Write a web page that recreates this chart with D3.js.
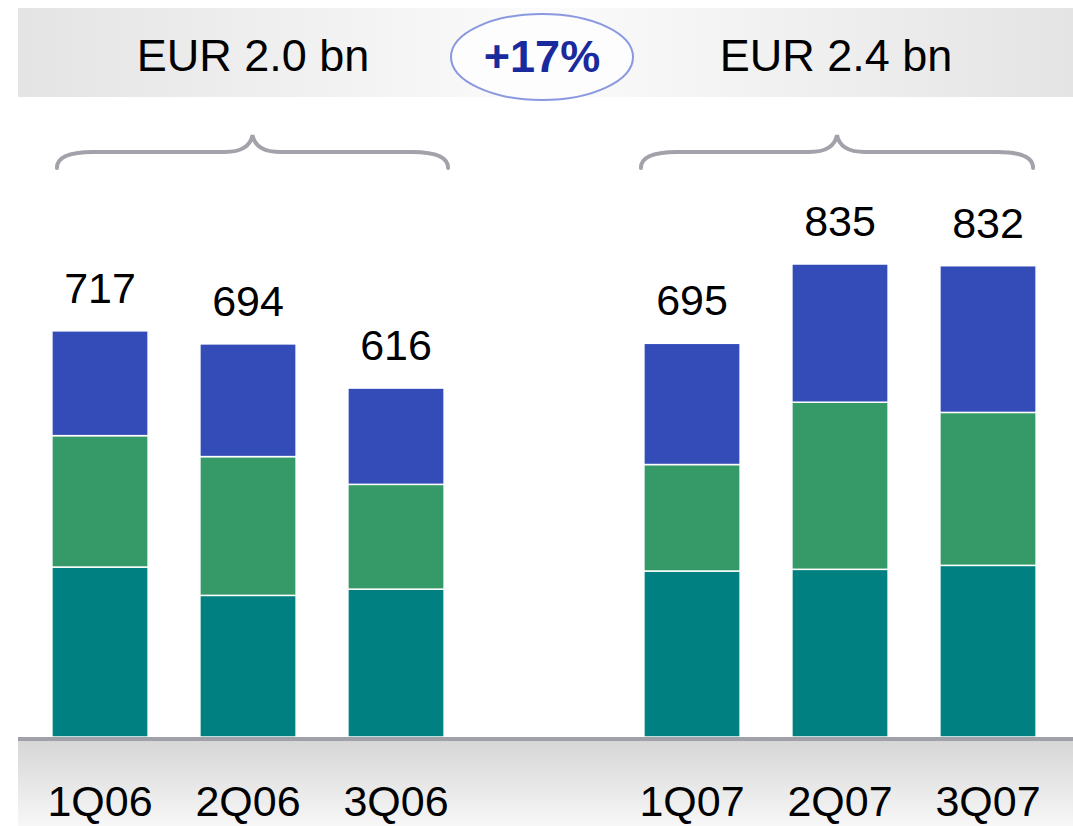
<!DOCTYPE html>
<html>
<head>
<meta charset="utf-8">
<script src="https://d3js.org/d3.v7.min.js"></script>
<style>
  body { margin: 0; background: #fff; }
  text { font-family: "Liberation Sans", Arial, sans-serif; }
</style>
</head>
<body>
<div id="my_dataviz"></div>
<script>

// data
var quarters = ["1Q06", "2Q06", "3Q06", "", "1Q07", "2Q07", "3Q07"];
var bottomPart = [300, 250, 261, null, 293, 296, 303];
var middlePart = [232, 245, 185, null, 188, 295, 270];
var topPart    = [185, 199, 170, null, 214, 244, 259];
var totals     = [717, 694, 616, null, 695, 835, 832];
var groupLabels = ["EUR 2.0 bn", "EUR 2.4 bn"];
var growthLabel = "+17%";

var colors = ["#008080", "#359a67", "#344cb8"];

var width = 1073, height = 826;
var baseY = 737;

var svg = d3.select("#my_dataviz")
  .append("svg")
  .attr("width", width)
  .attr("height", height);

var defs = svg.append("defs");

// header gradient (grey - light - grey)
var hg = defs.append("linearGradient").attr("id", "headGrad");
hg.append("stop").attr("offset", "0%").attr("stop-color", "#e4e4e4");
hg.append("stop").attr("offset", "50%").attr("stop-color", "#fbfbfb");
hg.append("stop").attr("offset", "100%").attr("stop-color", "#e4e4e4");

// bottom band gradient (grey fading to white)
var bg = defs.append("linearGradient").attr("id", "footGrad")
  .attr("x1", 0).attr("y1", 0).attr("x2", 0).attr("y2", 1);
bg.append("stop").attr("offset", "0%").attr("stop-color", "#d6d6d6");
bg.append("stop").attr("offset", "100%").attr("stop-color", "#f7f7f7");

// X scale with an empty slot between the two years
var x = d3.scaleBand()
  .domain(quarters)
  .range([26, 1062])
  .paddingInner(0.35)
  .paddingOuter(0.175);

var y = d3.scaleLinear()
  .domain([0, 835])
  .range([baseY, 264]);

// header band
svg.append("rect")
  .attr("x", 18).attr("y", 8)
  .attr("width", width - 18).attr("height", 89)
  .attr("fill", "url(#headGrad)");

svg.selectAll(".grpLabel")
  .data(groupLabels)
  .enter()
  .append("text")
  .attr("x", function(d, i) { return i == 0 ? 253 : 836; })
  .attr("y", 71)
  .attr("text-anchor", "middle")
  .style("font-size", "45px")
  .style("fill", "#000")
  .text(function(d) { return d; });

svg.append("ellipse")
  .attr("cx", 542).attr("cy", 57)
  .attr("rx", 91).attr("ry", 43)
  .attr("fill", "#fdfdfd")
  .attr("stroke", "#8a98e0")
  .attr("stroke-width", 2);

svg.append("text")
  .attr("x", 542).attr("y", 72)
  .attr("text-anchor", "middle")
  .style("font-size", "45px")
  .style("font-weight", "bold")
  .style("fill", "#1a2a9c")
  .text(growthLabel);

// braces over each year
function brace(x0, x1) {
  var mid = (x0 + x1) / 2;
  return "M" + x0 + ",168 Q" + x0 + ",152 " + (x0 + 36) + ",152" +
    " L" + (mid - 28) + ",152 Q" + (mid - 3) + ",152 " + mid + ",135" +
    " Q" + (mid + 3) + ",152 " + (mid + 28) + ",152" +
    " L" + (x1 - 36) + ",152 Q" + x1 + ",152 " + x1 + ",168";
}
var braceGroups = [["1Q06", "3Q06", 5, 4], ["1Q07", "3Q07", -3, -3]];
svg.selectAll(".brace")
  .data(braceGroups)
  .enter()
  .append("path")
  .attr("d", function(d) { return brace(x(d[0]) + d[2], x(d[1]) + x.bandwidth() + d[3]); })
  .attr("fill", "none")
  .attr("stroke", "#a2a2aa")
  .attr("stroke-width", 4)
  .attr("stroke-linecap", "round");

// stacked bars
var rows = quarters.map(function(q, i) {
  return { q: q, a: bottomPart[i], b: middlePart[i], c: topPart[i], total: totals[i] };
}).filter(function(d) { return d.q != ""; });

var stack = d3.stack().keys(["a", "b", "c"]);
var series = stack(rows);

svg.append("g")
  .selectAll("g")
  .data(series)
  .enter()
  .append("g")
  .attr("fill", function(d, i) { return colors[i]; })
  .selectAll("rect")
  .data(function(d) { return d; })
  .enter()
  .append("rect")
  .attr("x", function(d) { return x(d.data.q); })
  .attr("y", function(d) { return y(d[1]); })
  .attr("width", x.bandwidth())
  .attr("height", function(d) { return y(d[0]) - y(d[1]); })
  .attr("stroke", "#fff")
  .attr("stroke-width", 1.5);

// totals above bars
svg.selectAll(".total")
  .data(rows)
  .enter()
  .append("text")
  .attr("x", function(d) { return x(d.q) + x.bandwidth() / 2; })
  .attr("y", function(d) { return y(d.total) - 28; })
  .attr("text-anchor", "middle")
  .style("font-size", "43px")
  .style("fill", "#000")
  .text(function(d) { return d.total; });

// bottom band and baseline
svg.append("rect")
  .attr("x", 18).attr("y", baseY + 3)
  .attr("width", width - 18).attr("height", height - baseY - 3)
  .attr("fill", "url(#footGrad)");

svg.append("line")
  .attr("x1", 18).attr("x2", width)
  .attr("y1", baseY + 2).attr("y2", baseY + 2)
  .attr("stroke", "#a0a0a8")
  .attr("stroke-width", 4);

// quarter labels
svg.selectAll(".qLabel")
  .data(rows)
  .enter()
  .append("text")
  .attr("x", function(d) { return x(d.q) + x.bandwidth() / 2; })
  .attr("y", 816)
  .attr("text-anchor", "middle")
  .style("font-size", "43px")
  .style("fill", "#000")
  .text(function(d) { return d.q; });

</script>
</body>
</html>
